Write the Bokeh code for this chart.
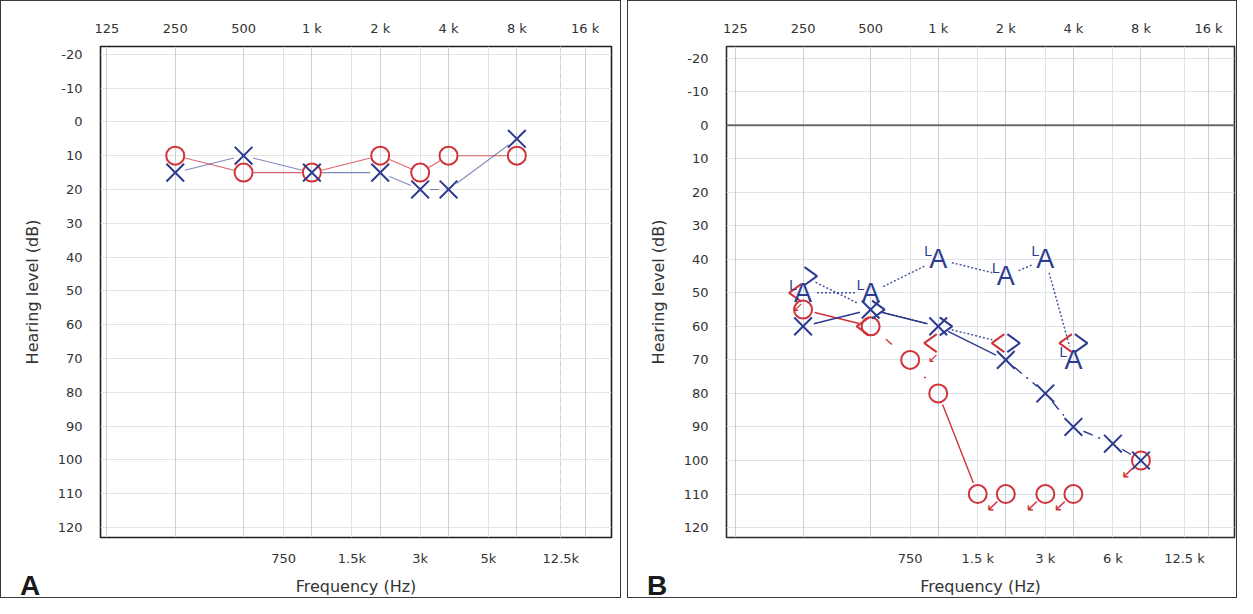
import numpy as np
from bokeh.plotting import figure
from bokeh.models import Range1d, LogAxis, LinearAxis, FixedTicker, Grid, Span, Div
from bokeh.layouts import row
from bokeh.core.properties import value
from bokeh.embed import file_html
from bokeh.resources import INLINE

# ---------------- data ----------------
top_ticks = [125, 250, 500, 1000, 2000, 4000, 8000, 16000]
top_labels = ["125", "250", "500", "1 k", "2 k", "4 k", "8 k", "16 k"]
bottom_ticks = [750, 1500, 3000, 6000, 12500]
bottom_labels_a = ["750", "1.5k", "3k", "5k", "12.5k"]
bottom_labels_b = ["750", "1.5 k", "3 k", "6 k", "12.5 k"]
db_ticks = list(range(-20, 121, 10))
db_labels = [str(d) for d in db_ticks]

# Panel A
freq_a = [250, 500, 1000, 2000, 3000, 4000, 8000]
right_ac_a = [10, 15, 15, 10, 15, 10, 10]
left_ac_a = [15, 10, 15, 15, 20, 20, 5]

# Panel B
freq_right_ac_b = [250, 500, 750, 1000, 1500, 2000, 3000, 4000, 8000]
right_ac_b = [55, 60, 70, 80, 110, 110, 110, 110, 100]
right_ac_nr_b = [False, False, False, False, False, True, True, True, True]
freq_left_ac_b = [250, 500, 1000, 2000, 3000, 4000, 6000, 8000]
left_ac_b = [60, 55, 60, 70, 80, 90, 95, 100]
freq_bc_b = [250, 500, 1000, 2000, 4000]
right_bc_b = [50, 60, 65, 65, 65]
right_bc_nr_b = [True, False, True, False, False]
left_bc_b = [45, 55, 60, 65, 65]
freq_aided_b = [250, 500, 1000, 2000, 3000, 4000]
left_aided_b = [50, 50, 40, 45, 40, 70]

# ---------------- style ----------------
RED = "#cf3339"
BLUE = "#2c3b8f"
FONT = "DejaVu Sans"
H = 598
MBT, MBB = 46, 59


def make_fig(width, xr, yr, mbl, mbr, bottom_labels, grid_major, grid_minor, outline):
    p = figure(width=width, height=H, x_axis_type="log",
               x_range=Range1d(*xr), y_range=Range1d(*yr),
               x_axis_location=None, y_axis_location=None,
               toolbar_location=None, output_backend="svg",
               min_border_left=mbl, min_border_right=mbr,
               min_border_top=MBT, min_border_bottom=MBB,
               background_fill_color="white", border_fill_color=None,
               outline_line_color=outline, outline_line_width=1.6,
               styles={"box-shadow": "inset 0 0 0 1px #3a3a3a"})
    p.center = [r for r in p.center if not isinstance(r, Grid)]

    p.add_layout(Grid(dimension=1, ticker=FixedTicker(ticks=db_ticks),
                      grid_line_color=grid_minor, grid_line_width=1))
    p.add_layout(Grid(dimension=0, ticker=FixedTicker(ticks=bottom_ticks),
                      grid_line_color=grid_minor, grid_line_width=1))
    p.add_layout(Grid(dimension=0, ticker=FixedTicker(ticks=top_ticks),
                      grid_line_color=grid_major, grid_line_width=1))

    top = LogAxis(ticker=FixedTicker(ticks=top_ticks),
                  major_label_overrides={t: l for t, l in zip(top_ticks, top_labels)})
    bot = LogAxis(ticker=FixedTicker(ticks=bottom_ticks),
                  major_label_overrides={t: l for t, l in zip(bottom_ticks, bottom_labels)},
                  axis_label="Frequency (Hz)")
    left = LinearAxis(ticker=FixedTicker(ticks=db_ticks), axis_label="Hearing level (dB)",
                      major_label_overrides={t: l for t, l in zip(db_ticks, db_labels)})
    for ax in (top, bot, left):
        ax.axis_line_color = None
        ax.major_tick_line_color = None
        ax.minor_tick_line_color = None
        ax.major_label_text_font = FONT
        ax.major_label_text_font_size = "13px"
        ax.major_label_text_color = "#333333"
        ax.axis_label_text_font = FONT
        ax.axis_label_text_font_size = "16px"
        ax.axis_label_text_font_style = "normal"
        ax.axis_label_text_color = "#333333"
    top.major_label_standoff = 5
    bot.major_label_standoff = 7
    bot.axis_label_standoff = 8
    left.major_label_standoff = 12
    left.axis_label_standoff = 13
    p.add_layout(top, "above")
    p.add_layout(bot, "below")
    p.add_layout(left, "left")

    fw = width - mbl - mbr
    fh = H - MBT - MBB
    ppo = fw / np.log2(xr[1] / xr[0])
    ppd = fh / (yr[0] - yr[1])
    return p, ppo, ppd


def draw_path(p, fr, db, ppo, ppd, color, styles, gap=11, width=1.3, alpha=1.0):
    n = len(fr) - 1
    if isinstance(styles, str):
        styles = [styles] * n
    for i in range(n):
        lx = np.log2(fr[i + 1] / fr[i])
        dd = db[i + 1] - db[i]
        L = np.hypot(lx * ppo, dd * ppd)
        if L <= 2 * gap:
            continue
        t = gap / L
        p.segment(x0=[fr[i] * 2 ** (lx * t)], y0=[db[i] + dd * t],
                  x1=[fr[i] * 2 ** (lx * (1 - t))], y1=[db[i] + dd * (1 - t)],
                  line_color=color, line_width=width, line_alpha=alpha,
                  line_dash=styles[i])


def chevrons(p, fr, db, ppo, ppd, side, color):
    # side=+1 -> ">" right of the frequency line, side=-1 -> "<" left of it
    xs, ys = [], []
    for f, d in zip(fr, db):
        a = f * 2 ** (side * 1.5 / ppo)
        b = f * 2 ** (side * 14 / ppo)
        xs.append([a, b, a])
        ys.append([d - 9 / ppd, d, d + 9 / ppd])
    p.multi_line(xs, ys, line_color=color, line_width=2)


def panel_letter(text, left):
    return Div(text=text, width=30, height=34,
               styles={"position": "absolute", "left": f"{left}px", "top": "570px",
                       "font-family": "Liberation Sans, Arial, sans-serif",
                       "font-size": "28px", "font-weight": "bold",
                       "line-height": "normal", "color": "#1a1a1a",
                       "margin": "0", "padding": "0", "z-index": "10"})


# ---------------- Panel A ----------------
pa, ppo_a, ppd_a = make_fig(621, (117.1, 20898), (122.95, -22.3), 100, 10,
                            bottom_labels_a, "#cfcfcf", "#e3e3e3", "#1e1e1e")
pa.add_layout(Grid(dimension=0, ticker=FixedTicker(ticks=[12500]),
                   grid_line_color="#d0d0d0", grid_line_dash="5 4"))
draw_path(pa, freq_a, right_ac_a, ppo_a, ppd_a, RED, "solid", gap=10, width=1.1, alpha=0.75)
draw_path(pa, freq_a, left_ac_a, ppo_a, ppd_a, BLUE, "solid", gap=10, width=1.1, alpha=0.6)
pa.scatter(freq_a, right_ac_a, marker="circle", size=18, fill_color=None,
           line_color=RED, line_width=2)
pa.scatter(freq_a, left_ac_a, marker="x", size=25, line_color=BLUE, line_width=2)

# ---------------- Panel B ----------------
pb, ppo_b, ppd_b = make_fig(610, (114.0, 20880), (122.96, -23.46), 99, 3,
                            bottom_labels_b, "#c9d0da", "#dde3ea", "#2a2a2a")
pb.add_layout(Span(location=0, dimension="width", line_color="#6a6a6a", line_width=2))

# lines
resp_f = [f for f, nr in zip(freq_right_ac_b, right_ac_nr_b) if not nr]
resp_d = [d for d, nr in zip(right_ac_b, right_ac_nr_b) if not nr]
draw_path(pb, resp_f, resp_d, ppo_b, ppd_b, RED,
          ["solid", "0 8 8 100", "0 10 2 100", "solid"], gap=12, width=1.4)
draw_path(pb, freq_left_ac_b, left_ac_b, ppo_b, ppd_b, BLUE,
          ["solid", "solid", "solid", "10 6 2 6", "10 6 2 6", "10 6 2 6", "10 6 2 6"],
          gap=11, width=1.4)
draw_path(pb, freq_bc_b[:4], left_bc_b[:4], ppo_b, ppd_b, BLUE, "2 2", gap=14, width=1.5,
          alpha=0.85)
draw_path(pb, freq_aided_b, left_aided_b, ppo_b, ppd_b, BLUE, "2 2", gap=14, width=1.5,
          alpha=0.85)

# symbols
pb.scatter(freq_right_ac_b, right_ac_b, marker="circle", size=18, fill_color=None,
           line_color=RED, line_width=2)
pb.scatter(freq_left_ac_b, left_ac_b, marker="x", size=25, line_color=BLUE, line_width=2)
chevrons(pb, freq_bc_b, right_bc_b, ppo_b, ppd_b, -1, RED)
chevrons(pb, freq_bc_b, left_bc_b, ppo_b, ppd_b, +1, BLUE)
pb.text(freq_aided_b, left_aided_b, text=value("A"), text_align="center",
        text_baseline="middle", text_font=value("Liberation Sans"),
        text_font_size="27px", text_color=BLUE)
pb.text(freq_aided_b, left_aided_b, text=value("L"), x_offset=-10, y_offset=-8,
        text_align="center", text_baseline="middle",
        text_font=value("Liberation Sans"), text_font_size="14px", text_color=BLUE)

nr_f = [f for f, nr in zip(freq_right_ac_b, right_ac_nr_b) if nr]
nr_d = [d for d, nr in zip(right_ac_b, right_ac_nr_b) if nr]
pb.text(nr_f, nr_d, text=value("\u2199"), x_offset=-13, y_offset=11,
        text_align="center", text_baseline="middle", text_font=value(FONT),
        text_font_size="17px", text_color=RED)
bnr_f = [f for f, nr in zip(freq_bc_b, right_bc_nr_b) if nr]
bnr_d = [d for d, nr in zip(right_bc_b, right_bc_nr_b) if nr]
pb.text(bnr_f, bnr_d, text=value("\u2199"), x_offset=-5, y_offset=14,
        text_align="center", text_baseline="middle", text_font=value(FONT),
        text_font_size="13px", text_color=RED)

layout = row(pa, pb, panel_letter("A", 20), panel_letter("B", 647), spacing=6)
open("out.html", "w").write(file_html(layout, INLINE))
